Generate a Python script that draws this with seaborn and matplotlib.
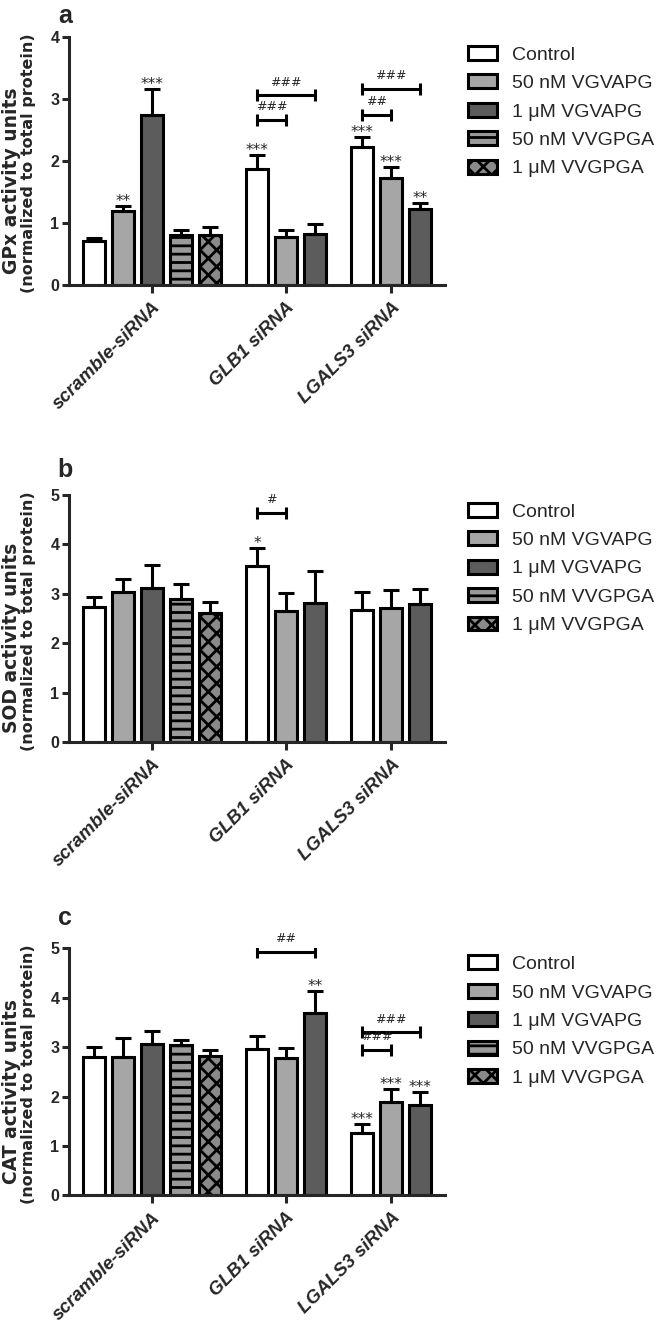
import numpy as np
import pandas as pd
import matplotlib.pyplot as plt
import matplotlib.transforms as mtransforms
import seaborn as sns
from matplotlib.patches import Patch

# groups and treatments
groups = ["scramble-siRNA", "GLB1 siRNA", "LGALS3 siRNA"]
treatments = ["Control", "50 nM VGVAPG", "1 \u03bcM VGVAPG", "50 nM VVGPGA", "1 \u03bcM VVGPGA"]

# which group / treatment each bar belongs to
bar_group = [0, 0, 0, 0, 0, 1, 1, 1, 2, 2, 2]
bar_treat = [0, 1, 2, 3, 4, 0, 1, 2, 0, 1, 2]

# panel a - GPx
gpx_mean = [0.71, 1.20, 2.75, 0.81, 0.81, 1.87, 0.78, 0.83, 2.22, 1.72, 1.22]
gpx_err = [0.05, 0.08, 0.41, 0.08, 0.12, 0.22, 0.11, 0.15, 0.17, 0.19, 0.10]
gpx_stars = ["", "**", "***", "", "", "***", "", "", "***", "***", "**"]
gpx_brackets = [(5, 7, 3.06, "###"), (5, 6, 2.66, "###"), (8, 10, 3.16, "###"), (8, 9, 2.75, "##")]

# panel b - SOD
sod_mean = [2.74, 3.04, 3.11, 2.89, 2.62, 3.56, 2.65, 2.81, 2.67, 2.71, 2.79]
sod_err = [0.20, 0.25, 0.47, 0.30, 0.22, 0.36, 0.36, 0.65, 0.37, 0.37, 0.30]
sod_stars = ["", "", "", "", "", "*", "", "", "", "", ""]
sod_brackets = [(5, 6, 4.64, "#")]

# panel c - CAT
cat_mean = [2.80, 2.81, 3.06, 3.05, 2.83, 2.96, 2.78, 3.70, 1.26, 1.90, 1.83]
cat_err = [0.20, 0.37, 0.26, 0.10, 0.12, 0.27, 0.21, 0.43, 0.19, 0.26, 0.27]
cat_stars = ["", "", "", "", "", "", "", "**", "***", "***", "***"]
cat_brackets = [(5, 7, 4.92, "##"), (8, 10, 3.30, "###"), (8, 9, 2.95, "###")]

fills = ["#ffffff", "#a6a6a6", "#5c5c5c", "#9a9a9a", "#8a8a8a"]
hatches = [None, None, None, "--", "xx"]

# bar layout: one slot per bar, extra gap between groups
group_gap = 0.62
bar_pos = [i + g * group_gap for i, g in enumerate(bar_group)]
group_pos = [np.mean([p for p, g in zip(bar_pos, bar_group) if g == k]) for k in range(len(groups))]

sns.set_style("ticks")
plt.rcParams["font.family"] = ["Liberation Sans", "DejaVu Sans"]
plt.rcParams["hatch.linewidth"] = 2.0
WIDE = ["DejaVu Sans"]

LW = 2.2

fig = plt.figure(figsize=(6.57, 13.24), dpi=100)


def draw_panel(rect, means, errs, stars, brackets, label1, ymax, letter, letter_y, leg_y):
    ax = fig.add_axes(rect)
    df = pd.DataFrame({
        "pos": bar_pos,
        "value": means,
        "treatment": [treatments[t] for t in bar_treat],
    })
    sns.barplot(data=df, x="pos", y="value", hue="treatment", hue_order=treatments,
                palette=fills, saturation=1, native_scale=True, dodge=False,
                width=0.75, errorbar=None, edgecolor="black", linewidth=LW,
                legend=False, ax=ax)
    # hatches by bar position
    for patch in ax.patches:
        cx = patch.get_x() + patch.get_width() / 2
        k = int(np.argmin(np.abs(np.array(bar_pos) - cx)))
        h = hatches[bar_treat[k]]
        if h:
            patch.set_hatch(h)

    ax.errorbar(bar_pos, means, yerr=[np.zeros(len(errs)), errs], fmt="none",
                ecolor="black", elinewidth=LW, capsize=6, capthick=LW)

    for i, s in enumerate(stars):
        if s:
            ax.annotate(s, (bar_pos[i], means[i] + errs[i]), xytext=(0, 0),
                        textcoords="offset points", ha="center", va="baseline",
                        fontsize=11, family=WIDE)

    for i, j, y, s in brackets:
        ax.plot([bar_pos[i], bar_pos[j]], [y, y], color="black", lw=LW,
                marker="|", markersize=8, markeredgewidth=LW, solid_capstyle="butt")
        ax.annotate(s, ((bar_pos[i] + bar_pos[j]) / 2, y), xytext=(0, 7),
                    textcoords="offset points", ha="center", va="baseline",
                    fontsize=9, family=WIDE)

    ax.set_xlim(-0.86, 12.1)
    ax.set_ylim(0, ymax)
    ax.set_yticks(range(0, ymax + 1))
    ax.set_xticks(group_pos)
    ax.set_xticklabels(groups, rotation=45, ha="right", rotation_mode="anchor",
                       fontsize=13.5, fontweight="bold", fontstyle="italic")
    offset = mtransforms.ScaledTranslation(5 / 100, 0, fig.dpi_scale_trans)
    for lab in ax.get_xticklabels():
        lab.set_transform(lab.get_transform() + offset)
    for lab in ax.get_yticklabels():
        lab.set_fontweight("bold")
    ax.tick_params(axis="y", labelsize=11.5, length=5, width=LW, pad=2)
    ax.tick_params(axis="x", length=6, width=LW, pad=4)
    ax.set_xlabel("")
    ax.set_ylabel("")
    sns.despine(ax=ax)
    for sp in ["left", "bottom"]:
        ax.spines[sp].set_linewidth(LW)

    ax.text(-0.153, 0.42, label1, transform=ax.transAxes, rotation=90,
            ha="center", va="center", fontsize=13.5, fontweight="bold", family=WIDE)
    ax.text(-0.109, 0.49, "(normalized to total protein)", transform=ax.transAxes,
            rotation=90, ha="center", va="center", fontsize=11.5, fontweight="bold",
            family=WIDE)
    ax.text(-0.01, letter_y, letter, transform=ax.transAxes, ha="center",
            va="baseline", fontsize=18, fontweight="bold")

    handles = [Patch(facecolor=fills[k], edgecolor="black", linewidth=LW,
                     hatch=hatches[k], label=treatments[k]) for k in range(len(treatments))]
    ax.legend(handles=handles, loc="upper left", bbox_to_anchor=(1.061, leg_y),
              frameon=False, fontsize=14, handlelength=1.5, handleheight=0.72,
              handletextpad=0.75, labelspacing=0.55, borderaxespad=0, borderpad=0)
    return ax


left = 69 / 657
width = 376 / 657
draw_panel([left, 0.7847, width, 0.1873], gpx_mean, gpx_err, gpx_stars, gpx_brackets,
           "GPx activity units", 4, "a", 1.056, 0.964)
draw_panel([left, 0.4396, width, 0.1866], sod_mean, sod_err, sod_stars, sod_brackets,
           "SOD activity units", 5, "b", 1.073, 0.968)
draw_panel([left, 0.0971, width, 0.1867], cat_mean, cat_err, cat_stars, cat_brackets,
           "CAT activity units", 5, "c", 1.095, 0.971)

fig.savefig("out.png", dpi=100)
